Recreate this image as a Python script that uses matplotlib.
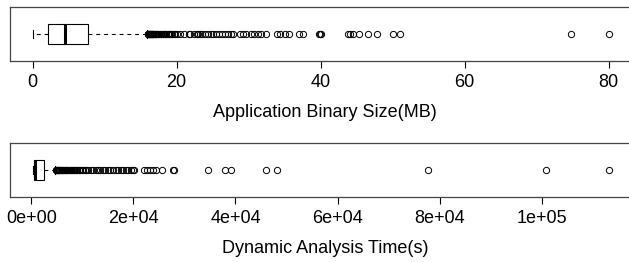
import matplotlib
matplotlib.use('Agg')
import matplotlib.pyplot as plt

plt.rcParams['font.family'] = ['Liberation Sans', 'DejaVu Sans']

# box statistics
size_stats = {'whislo': 0.0, 'q1': 2.2, 'med': 4.5, 'q3': 7.75, 'whishi': 15.9}
size_fliers = [16.0, 16.05, 16.1, 16.15, 16.2, 16.25, 16.3, 16.35, 16.4, 16.5, 16.55,
               16.6, 16.7, 16.75, 16.8, 16.9, 17.0, 17.1, 17.2, 17.3, 17.45, 17.6,
               17.8, 17.9, 18.1, 18.3, 18.4, 18.6, 18.8, 18.9, 19.1, 19.3, 19.4, 19.6,
               19.8, 20.0, 20.5, 21.0, 21.8, 21.9, 22.4, 22.8, 23.0, 23.3, 23.6, 24.0,
               24.4, 24.8, 25.1, 25.5, 25.9, 26.3, 26.7, 27.1, 27.5, 27.9, 28.8, 29.2,
               29.6, 30.3, 30.8, 31.3, 31.8, 32.4, 33.9, 34.4, 35.0, 35.6, 37.0, 37.5,
               39.8, 39.9, 40.0, 43.8, 44.1, 44.5, 45.4, 46.6, 47.9, 50.0, 51.1, 74.8, 80.1]
size_ticks = [0, 20, 40, 60, 80]

time_stats = {'whislo': 274, 'q1': 588, 'med': 725, 'q3': 2547, 'whishi': 4700}
time_fliers = [4800, 4900, 5000, 5100, 5200, 5300, 5400, 5500, 5650, 5800, 5950, 6100,
               6250, 6400, 6550, 6700, 6850, 7000, 7200, 7400, 7600, 7800, 8000, 8200,
               8400, 8600, 8800, 9000, 9300, 9600, 9900, 10200, 10500, 10800, 11200,
               11600, 12100, 12600, 13000, 13500, 14000, 14500, 15000, 15500, 16000,
               16500, 17000, 17500, 18000, 18500, 19000, 19600, 20000, 20200, 22100,
               22600, 23300, 23900, 24500, 25700, 27700, 27900, 34600, 37900, 39200,
               46000, 48200, 77700, 100800, 113200]
time_ticks = [0, 20000, 40000, 60000, 80000, 100000]
time_labels = ['0e+00', '2e+04', '4e+04', '6e+04', '8e+04', '1e+05']

fig = plt.figure(figsize=(6.29, 2.62), dpi=100)
W, H = 629, 262


def draw(rect, stats, fliers, xlim, ticks, labels, xlabel):
    ax = fig.add_axes(rect)
    s = dict(stats)
    s['fliers'] = fliers
    ax.bxp([s], positions=[1], widths=0.38, capwidths=[0.16],
           orientation='horizontal', patch_artist=True,
           boxprops=dict(facecolor='white', edgecolor='black', linewidth=0.8),
           medianprops=dict(color='black', linewidth=2.2),
           whiskerprops=dict(color='black', linewidth=0.8, linestyle=(0, (3.5, 3.5))),
           capprops=dict(color='black', linewidth=0.8),
           flierprops=dict(marker='o', markerfacecolor='none', markeredgecolor='black',
                           markersize=4.5, markeredgewidth=0.7, linestyle='none'))
    ax.set_xlim(*xlim)
    ax.set_ylim(0.5, 1.5)
    ax.set_yticks([])
    ax.set_xticks(ticks)
    ax.set_xticklabels(labels)
    ax.tick_params(axis='x', length=5.2, width=0.8, pad=4.2, labelsize=13)
    for sp in ax.spines.values():
        sp.set_color('#444444')
        sp.set_linewidth(0.9)
    ax.set_xlabel(xlabel, fontsize=13, labelpad=9)
    return ax


# top: 0 at px 32.5, 7.2 px per MB; axes from px 10 to 640
draw([10 / W, 1 - 61 / H, 630 / W, 54 / H], size_stats, size_fliers,
     ((10 - 32.5) / 7.2, (640 - 32.5) / 7.2), size_ticks,
     [str(t) for t in size_ticks], 'Application Binary Size(MB)')

# bottom: 0 at px 31.3, 0.005105 px per second
draw([10 / W, 1 - 197 / H, 630 / W, 54 / H], time_stats, time_fliers,
     ((10 - 31.3) / 0.005105, (640 - 31.3) / 0.005105), time_ticks,
     time_labels, 'Dynamic Analysis Time(s)')

fig.savefig('out.png', dpi=100)
